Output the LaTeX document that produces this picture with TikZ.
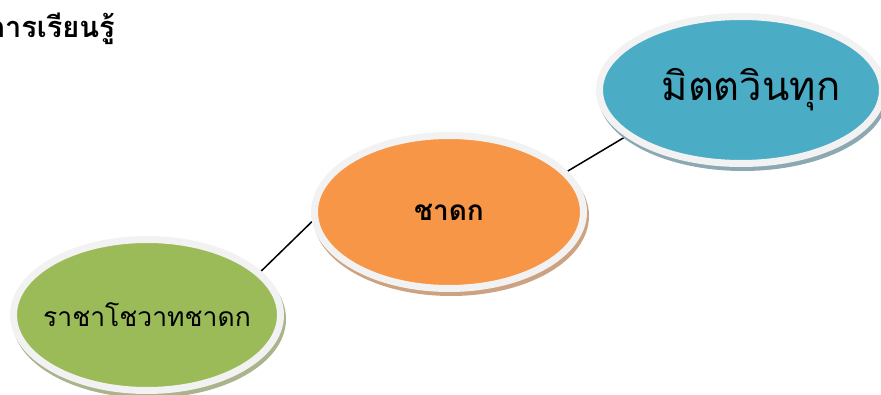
\documentclass[tikz,border=0pt]{standalone}
\usepackage{fontspec}
\newfontfamily\thaifont[Script=Thai]{Loma}
\usetikzlibrary{shapes.geometric,shadows,backgrounds}
\usepackage{xcolor}
\definecolor{rim}{RGB}{242,242,242}
\definecolor{grn}{RGB}{155,187,89}
\definecolor{grnshd}{RGB}{170,180,140}
\definecolor{org}{RGB}{247,150,70}
\definecolor{orgshd}{RGB}{205,162,128}
\definecolor{blu}{RGB}{75,172,198}
\definecolor{blushd}{RGB}{140,168,178}

\begin{document}
\begin{tikzpicture}[x=1pt,y=1pt]

\tikzset{vertex/.style = {shape=ellipse,draw=rim,line width=7pt,inner sep=0pt}}
\tikzset{shd/.style = {drop shadow={shadow xshift=2pt,shadow yshift=-4pt,fill=#1,draw=#1,line width=7pt,opacity=1}}}
\tikzset{edge/.style = {-,line width=1.5pt}}
\useasboundingbox (0,0) rectangle (881,394);
\node[anchor=base east,inner sep=0pt,font=\thaifont\bfseries\fontsize{29}{33}\selectfont] (0) at (115,356) {การเรียนรู้};
\node[vertex,shd=grnshd,fill=grn,minimum width=267pt,minimum height=151pt,font=\thaifont\fontsize{26.5}{30}\selectfont] (1) at (147,79) {\makebox[0pt]{ราชาโชวาทชาดก}};
\node[vertex,shd=orgshd,fill=org,minimum width=269pt,minimum height=153pt,font=\thaifont\bfseries\fontsize{28}{32}\selectfont] (2) at (449,182) {\makebox[0pt]{ชาดก}};
\node[vertex,shd=blushd,fill=blu,minimum width=283pt,minimum height=147pt,font=\thaifont\fontsize{40}{46}\selectfont] (3) at (741,304) {\makebox[0pt]{\kern20pt มิตตวินทุก}};

%edges
\begin{scope}[on background layer]
\draw[edge] (1.21) to (2.184);
\draw[edge] (2.19) to (3.202);
\end{scope}
\end{tikzpicture}
\end{document}
